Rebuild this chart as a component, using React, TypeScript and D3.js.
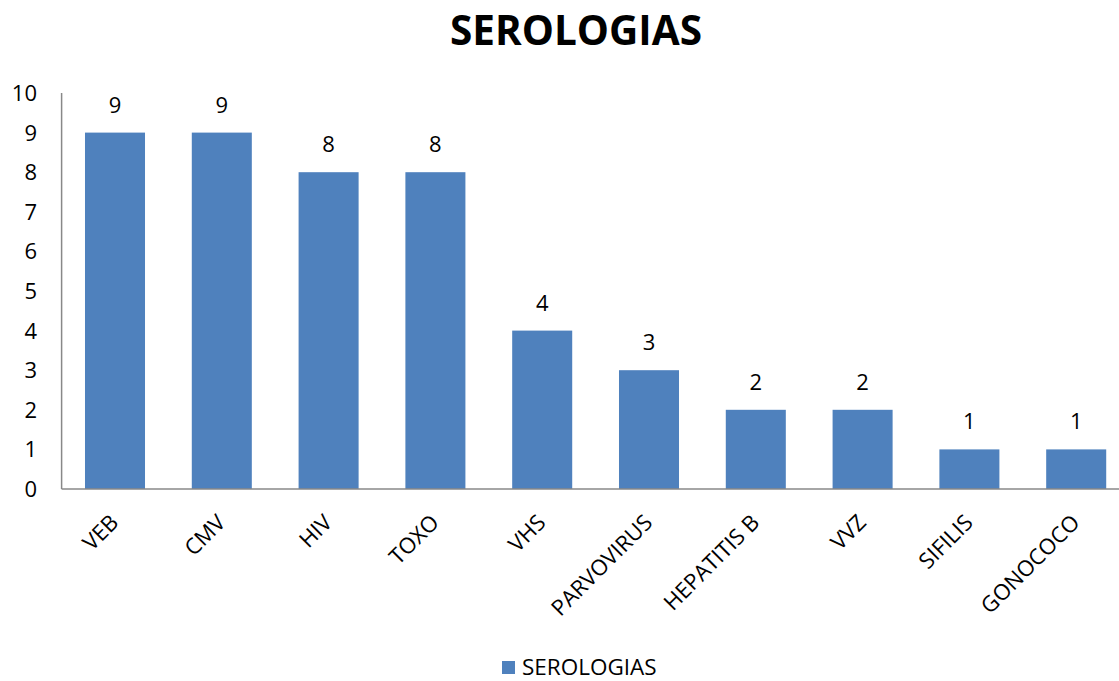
import React from "react";
import * as d3 from "d3";

const categories = ["VEB", "CMV", "HIV", "TOXO", "VHS", "PARVOVIRUS", "HEPATITIS B", "VVZ", "SIFILIS", "GONOCOCO"];
const values = [9, 9, 8, 8, 4, 3, 2, 2, 1, 1];
const yTicks = [0, 1, 2, 3, 4, 5, 6, 7, 8, 9, 10];
const seriesName = "SEROLOGIAS";
const title = "SEROLOGIAS";

const W = 1119;
const H = 681;
const FONT = "'Open Sans', 'Noto Sans', sans-serif";
const BLUE = "#4F81BD";

export default function App() {
  const x = d3.scaleBand<string>().domain(categories).range([61.6, 1129.6]).paddingInner(0.438).paddingOuter(0.219);
  const y = d3.scaleLinear().domain([0, 10]).range([489, 93]);

  return (
    <svg width={W} height={H} style={{ position: "absolute", left: 0, top: 0, background: "#fff" }}>
      <rect x={0} y={0} width={W} height={H} fill="#fff" />
      <text x={576} y={45} textAnchor="middle" fontFamily={FONT} fontWeight="bold" fontSize={40.5} fill="#000">
        {title}
      </text>
      {yTicks.map((t) => (
        <text key={t} x={37} y={y(t)} dy="0.36em" textAnchor="end" fontFamily={FONT} fontSize={22} fill="#000">
          {t}
        </text>
      ))}
      {categories.map((c, i) => (
        <g key={c}>
          <rect x={x(c)} y={y(values[i])} width={x.bandwidth()} height={y(0) - y(values[i])} fill={BLUE} />
          <text x={(x(c) as number) + x.bandwidth() / 2} y={y(values[i]) - 20} textAnchor="middle" fontFamily={FONT} fontSize={22} fill="#000">
            {values[i]}
          </text>
          <text
            transform={`translate(${(x(c) as number) + x.bandwidth() / 2 - 6},${513}) rotate(-45)`}
            textAnchor="end"
            dy="0.7em"
            fontFamily={FONT}
            fontSize={22}
            fill="#000"
          >
            {c}
          </text>
        </g>
      ))}
      <line x1={61.6} x2={61.6} y1={93} y2={489} stroke="#888" strokeWidth={1.5} />
      <line x1={61.6} x2={1130} y1={489} y2={489} stroke="#888" strokeWidth={1.5} />
      <rect x={502} y={661} width={13} height={13} fill={BLUE} />
      <text x={522} y={675} fontFamily={FONT} fontSize={22.5} fill="#000">
        {seriesName}
      </text>
    </svg>
  );
}
